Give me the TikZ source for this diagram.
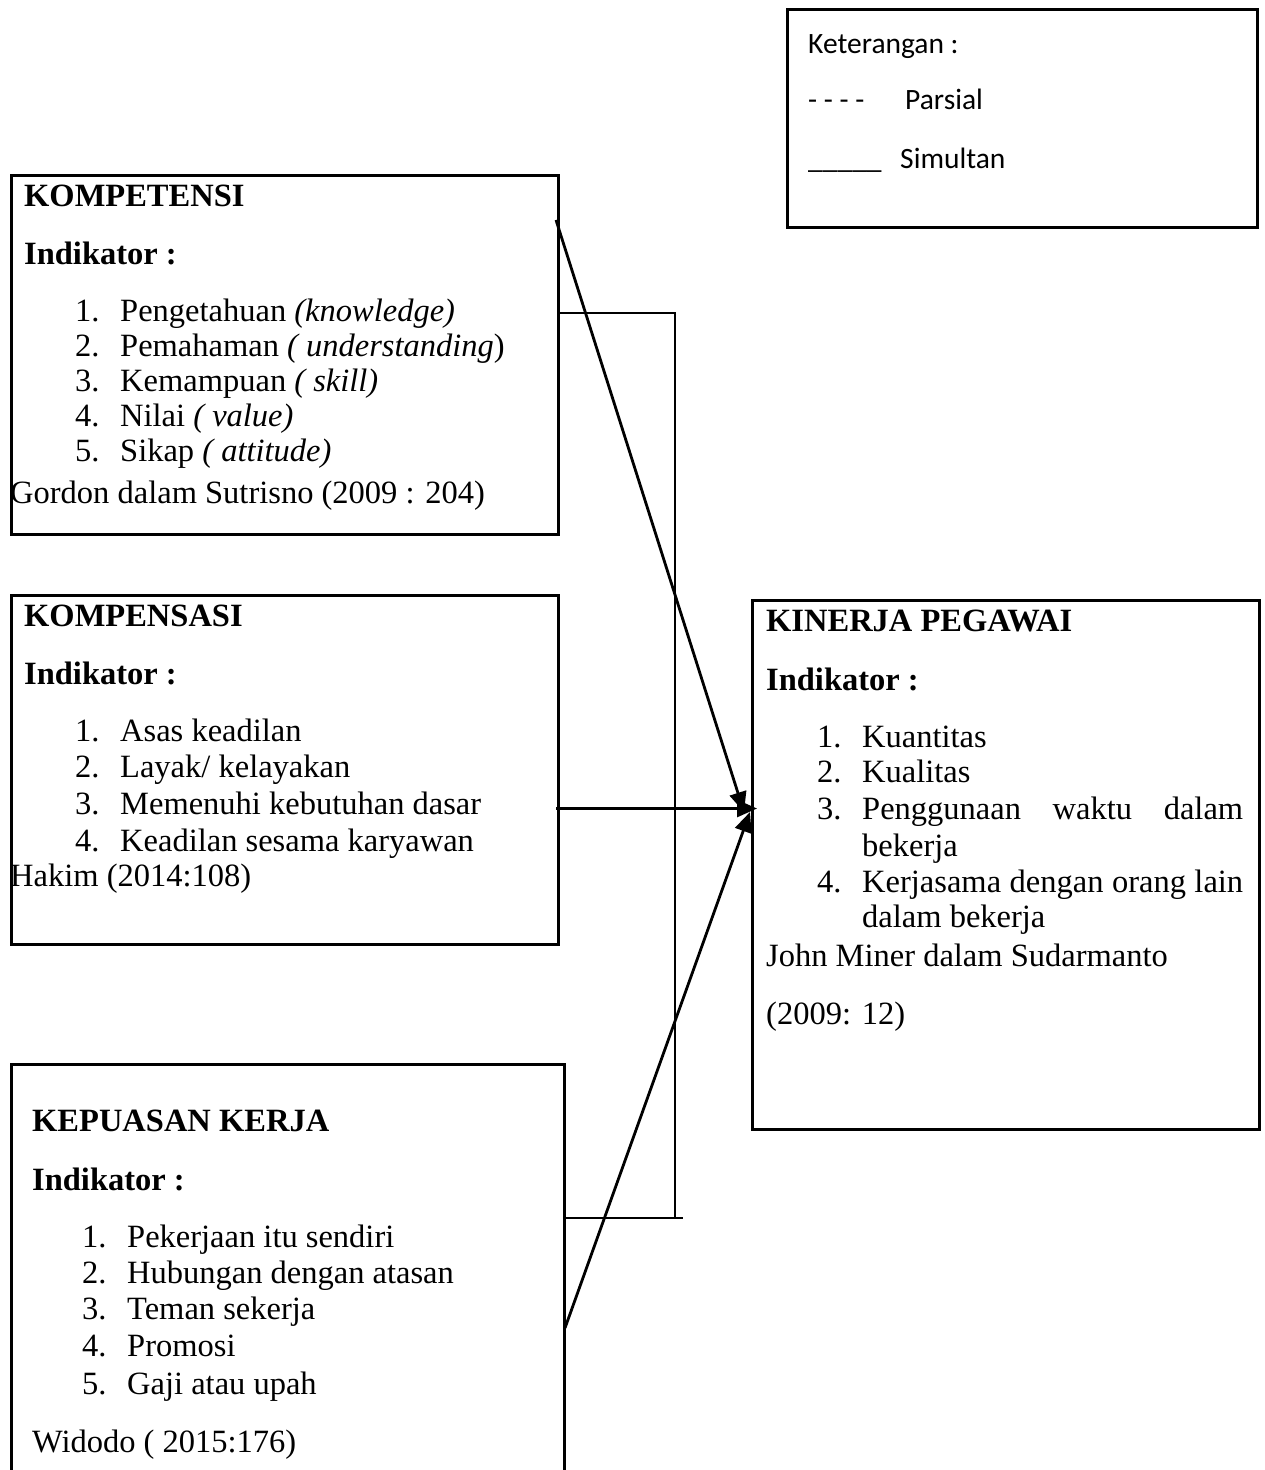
\documentclass[tikz,border=0pt]{standalone}
\usepackage{fontspec}
\setmainfont{Liberation Serif}
\newfontfamily\legendfont{Carlito}
\usetikzlibrary{arrows.meta}
\begin{document}
\begin{tikzpicture}[x=1pt,y=-1pt,
  box/.style={draw, line width=2.6pt, inner sep=0pt, anchor=north west},
  txt/.style={anchor=base west, inner sep=0pt, font=\fontsize{32.5}{36}\selectfont},
  hd/.style={txt, font=\fontsize{32.5}{36}\selectfont\bfseries},
  leg/.style={anchor=base west, inner sep=0pt, font=\legendfont\fontsize{29.5}{34}\selectfont},
  conn/.style={line width=2.8pt, -{Triangle[length=20pt,width=17pt]}},
  brk/.style={line width=1.3pt}]
\clip (0,0) rectangle (1264,1470);
\fill[white] (0,0) rectangle (1264,1470);

% legend
\node[box, minimum width=470pt, minimum height=218pt] (legend) at (786,8) {};
\node[leg] (ket) at (808,53) {Keterangan :};
\node[leg] (dash) at (808,109) {- - - -};
\node[leg] (pars) at (905,109) {Parsial};
\node[leg] (und) at (808,168) {\_\_\_\_\_};
\node[leg] (simu) at (900,168) {Simultan};

% KOMPETENSI
\node[box, minimum width=547pt, minimum height=359pt] (kompt) at (10,174) {};
\node[hd] (h1) at (24,206) {KOMPETENSI};
\node[hd] (i1) at (24,264) {Indikator :};
\node[txt] (a1n) at (75,321) {1.};
\node[txt] (a1) at (120,321) {Pengetahuan \textit{(knowledge)}};
\node[txt] (a2n) at (75,356) {2.};
\node[txt] (a2) at (120,356) {Pemahaman \textit{( understanding})};
\node[txt] (a3n) at (75,391) {3.};
\node[txt] (a3) at (120,391) {Kemampuan \textit{( skill)}};
\node[txt] (a4n) at (75,426) {4.};
\node[txt] (a4) at (120,426) {Nilai \textit{( value)}};
\node[txt] (a5n) at (75,461) {5.};
\node[txt] (a5) at (120,461) {Sikap \textit{( attitude)}};
\node[txt] (s1) at (10,503) {Gordon dalam Sutrisno (2009 : 204)};

% KOMPENSASI
\node[box, minimum width=547pt, minimum height=349pt] (kompn) at (10,594) {};
\node[hd] (h2) at (24,626) {KOMPENSASI};
\node[hd] (i2) at (24,684) {Indikator :};
\node[txt] (b1n) at (75,741) {1.};
\node[txt] (b1) at (120,741) {Asas keadilan};
\node[txt] (b2n) at (75,777) {2.};
\node[txt] (b2) at (120,777) {Layak/ kelayakan};
\node[txt] (b3n) at (75,814) {3.};
\node[txt] (b3) at (120,814) {Memenuhi kebutuhan dasar};
\node[txt] (b4n) at (75,851) {4.};
\node[txt] (b4) at (120,851) {Keadilan sesama karyawan};
\node[txt] (s2) at (10,886) {Hakim (2014:108)};

% KEPUASAN KERJA (bottom edge outside the picture)
\node[box, minimum width=553pt, minimum height=440pt] (kep) at (10,1063) {};
\node[hd] (h3) at (32,1131) {KEPUASAN KERJA};
\node[hd] (i3) at (32,1190) {Indikator :};
\node[txt] (c1n) at (82,1247) {1.};
\node[txt] (c1) at (127,1247) {Pekerjaan itu sendiri};
\node[txt] (c2n) at (82,1283) {2.};
\node[txt] (c2) at (127,1283) {Hubungan dengan atasan};
\node[txt] (c3n) at (82,1319) {3.};
\node[txt] (c3) at (127,1319) {Teman sekerja};
\node[txt] (c4n) at (82,1356) {4.};
\node[txt] (c4) at (127,1356) {Promosi};
\node[txt] (c5n) at (82,1394) {5.};
\node[txt] (c5) at (127,1394) {Gaji atau upah};
\node[txt] (s3) at (32,1452) {Widodo ( 2015:176)};

% KINERJA PEGAWAI
\node[box, minimum width=507pt, minimum height=529pt] (kin) at (751,599) {};
\node[hd] (h4) at (766,631) {KINERJA PEGAWAI};
\node[hd] (i4) at (766,690) {Indikator :};
\node[txt] (d1n) at (817,747) {1.};
\node[txt] (d1) at (862,747) {Kuantitas};
\node[txt] (d2n) at (817,782) {2.};
\node[txt] (d2) at (862,782) {Kualitas};
\node[txt] (d3n) at (817,819) {3.};
\node[txt] (d3) at (862,819) {\makebox[381pt][s]{Penggunaan\hfill waktu\hfill dalam}};
\node[txt] (d3b) at (862,856) {bekerja};
\node[txt] (d4n) at (817,892) {4.};
\node[txt] (d4) at (862,892) {\makebox[381pt][s]{Kerjasama dengan orang lain}};
\node[txt] (d4b) at (862,927) {dalam bekerja};
\node[txt] (s4) at (766,966) {John Miner dalam Sudarmanto};
\node[txt] (s4b) at (766,1024) {(2009: 12)};

% connector end points
\coordinate (k1out) at (556,220);
\coordinate (k2out) at (556,808.5);
\coordinate (k3out) at (565,1328);
\coordinate (tip1) at (744,812);
\coordinate (tip2) at (757,808.5);
\coordinate (tip3) at (750,812);
\draw[conn] (k1out) -- (tip1);
\draw[conn] (k2out) -- (tip2);
\draw[conn] (k3out) -- (tip3);

% bracket (simultan)
\coordinate (bt0) at (560,313);
\coordinate (bt1) at (675,313);
\coordinate (bb0) at (565,1218);
\coordinate (bb1) at (683,1218);
\coordinate (bb2) at (675,1218);
\draw[brk] (bt0) -- (bt1) -- (bb2);
\draw[brk] (bb0) -- (bb1);
\end{tikzpicture}
\end{document}
